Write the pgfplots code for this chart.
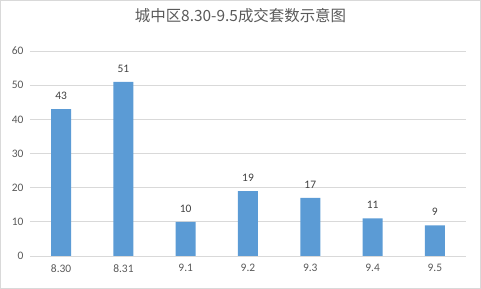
\documentclass[border=0pt]{standalone}
\usepackage{fontspec}
\setmainfont{Carlito}
\newfontfamily\cjk{Noto Sans CJK SC}
\usepackage{pgfplots}
\pgfplotsset{compat=1.18}
\definecolor{barblue}{HTML}{5B9BD5}
\definecolor{gridgray}{HTML}{D9D9D9}
\definecolor{txtgray}{HTML}{595959}
\definecolor{lblgray}{HTML}{404040}
\begin{document}
\begin{tikzpicture}
\useasboundingbox (0,0) rectangle (481bp,289bp);
\draw[gridgray, line width=1bp] (0.5bp,0.5bp) rectangle (480.5bp,288.5bp);
\node[text=txtgray, font=\cjk\fontsize{15.5}{18}\selectfont] at (240.5bp,273bp) {城中区8.30-9.5成交套数示意图};
\begin{axis}[
  at={(30bp,33bp)}, anchor=south west,
  scale only axis, width=436bp, height=205bp,
  ybar, bar width=20bp,
  xmin=-0.5, xmax=6.5, ymin=0, ymax=60,
  ytick={0,10,...,60},
  xtick={0,...,6},
  xticklabels={8.30,8.31,9.1,9.2,9.3,9.4,9.5},
  /pgf/number format/assume math mode=true,
  tick label style={font=\fontsize{11.5}{13}\selectfont, text=txtgray},
  major tick length=0pt,
  ymajorgrids, grid style={gridgray, line width=0.75bp},
  axis x line*=bottom, axis y line*=left,
  y axis line style={draw=none},
  x axis line style={draw=gridgray, line width=0.75bp, -},
  yticklabel style={xshift=-3bp},
  xticklabel style={yshift=-5bp},
  nodes near coords,
  every node near coord/.append style={font=\fontsize{11.5}{13}\selectfont, text=lblgray, yshift=6bp},
  clip=false,
]
\addplot[fill=barblue, draw=none, bar shift=0pt] coordinates {(0,43) (1,51) (2,10) (3,19) (4,17) (5,11) (6,9)};
\end{axis}
\end{tikzpicture}
\end{document}
